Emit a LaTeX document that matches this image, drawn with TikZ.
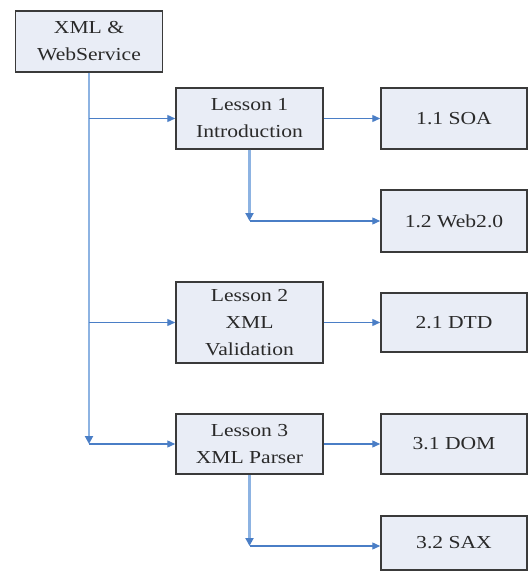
\documentclass[tikz,border=0pt]{standalone}
\usepackage{fontspec}
\setmainfont{Liberation Serif}[FakeStretch=1.18]
\usetikzlibrary{arrows.meta}
\definecolor{boxfill}{HTML}{E9EDF6}
\definecolor{boxline}{HTML}{3A3A3A}
\definecolor{textc}{HTML}{2A2A2A}
\definecolor{linkc}{HTML}{4A7EC6}
\definecolor{trunkc}{HTML}{8DB3E2}
\tikzset{
  box/.style={draw=boxline, line width=1.5pt, fill=boxfill, text=textc,
    minimum width=147pt, inner sep=0pt, align=center,
    font=\fontsize{18.3}{27}\selectfont},
  link/.style={draw=linkc, line width=1.3pt, -{Triangle[length=8pt,width=7pt]}},
  trunk/.style={draw=trunkc, line width=2.8pt},
  tip/.style={-{Triangle[length=8pt,width=8pt,color=linkc]}}
}
\begin{document}
\begin{tikzpicture}[x=1pt,y=-1pt]
\useasboundingbox (0,0) rectangle (529,572);
% boxes
\node[box, minimum height=61pt] (root) at (89,41.5) {XML \&\\WebService};
\node[box, minimum height=61pt] (l1) at (249.5,118.5) {Lesson 1\\Introduction};
\node[box, minimum height=61pt, minimum width=146pt] (soa) at (454,118.5) {1.1 SOA};
\node[box, minimum height=62pt, minimum width=146pt] (web) at (454,221) {1.2 Web2.0};
\node[box, minimum height=81pt] (l2) at (249.5,322.5) {Lesson 2\\XML\\Validation};
\node[box, minimum height=59pt, minimum width=146pt] (dtd) at (454,322.5) {2.1 DTD};
\node[box, minimum height=60pt] (l3) at (249.5,444) {Lesson 3\\XML Parser};
\node[box, minimum height=60pt, minimum width=146pt] (dom) at (454,444) {3.1 DOM};
\node[box, minimum height=54pt, minimum width=146pt] (sax) at (454,543) {3.2 SAX};
% junction points
\coordinate (j1) at (89,118.5);
\coordinate (j2) at (89,322.5);
\coordinate (j3) at (89,444);
\coordinate (b1) at (249.5,221);
\coordinate (b3) at (249.5,546);
% trunk from the root down
\draw[trunk, tip] (root.south) -- (j3);
\draw[trunk, tip] (l1.south) -- (b1);
\draw[trunk, tip] (l3.south) -- (b3);
% horizontal links
\draw[link] (j1) -- (l1.west);
\draw[link] (j2) -- (l2.west);
\draw[link] (j3) -- (l3.west);
\draw[link] (l1.east) -- (soa.west);
\draw[link] (b1) -- (web.west);
\draw[link] (l2.east) -- (dtd.west);
\draw[link] (l3.east) -- (dom.west);
\draw[link] (b3) -- (sax.west |- b3);
\end{tikzpicture}
\end{document}
